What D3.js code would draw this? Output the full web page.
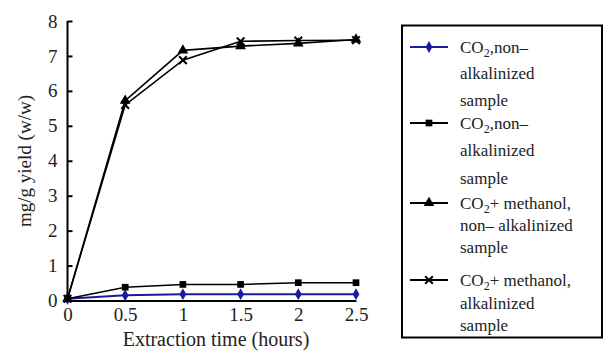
<!DOCTYPE html>
<html>
<head>
<meta charset="utf-8">
<script src="https://cdn.jsdelivr.net/npm/d3@7"></script>
<style>
  body { margin: 0; background: #fff; }
  svg text { font-family: "Liberation Serif", "Times New Roman", "DejaVu Serif", serif; }
</style>
</head>
<body>
<div class="chart"></div>
<script>
// extraction time in hours
var hours = [0, 0.5, 1, 1.5, 2, 2.5];
var xTicks = [0, 0.5, 1, 1.5, 2, 2.5];
var yTicks = [0, 1, 2, 3, 4, 5, 6, 7, 8];

// mg/g yield (w/w)
var co2Blue = [0.05, 0.15, 0.18, 0.18, 0.18, 0.18];
var co2Square = [0.05, 0.38, 0.46, 0.46, 0.51, 0.51];
var methanolNonAlk = [0.05, 5.72, 7.16, 7.28, 7.36, 7.47];
var methanolAlk = [0.05, 5.6, 6.88, 7.42, 7.44, 7.45];

var serifFont = "'Liberation Serif', 'Times New Roman', 'DejaVu Serif', serif";

var series = [
    { values: co2Blue, color: "#1a1aa0", marker: "diamond", label: ["CO|2|,non\u2013", "alkalinized", "sample"] },
    { values: co2Square, color: "#000", marker: "square", label: ["CO|2|,non\u2013", "alkalinized", "sample"] },
    { values: methanolNonAlk, color: "#000", marker: "triangle", label: ["CO|2|+ methanol,", "non\u2013 alkalinized", "sample"] },
    { values: methanolAlk, color: "#000", marker: "star", label: ["CO|2|+ methanol,", "alkalinized", "sample"] }
];

var width = 604, height = 355;
var svg = d3.select(".chart").append("svg")
    .attr("width", width)
    .attr("height", height)
    .attr("font-family", serifFont);

var x = d3.scaleLinear().domain([0, 2.5]).range([67.5, 356]);
var y = d3.scaleLinear().domain([0, 8]).range([300.5, 21]);

// axes
var yAxis = svg.append("g")
    .attr("transform", "translate(" + x(0) + ",0)")
    .call(d3.axisLeft(y).tickValues(yTicks).tickSize(-5).tickPadding(10).tickFormat(d3.format("d")));
var xAxis = svg.append("g")
    .attr("transform", "translate(0," + y(0) + ")")
    .call(d3.axisBottom(x).tickValues(xTicks).tickSize(0).tickPadding(7).tickFormat(function (d) { return d; }));

yAxis.attr("font-family", serifFont).attr("font-size", 19);
xAxis.attr("font-family", serifFont).attr("font-size", 19);
svg.selectAll(".domain").attr("stroke", "#000").attr("stroke-width", 2);
yAxis.selectAll(".tick line").attr("stroke", "#000").attr("stroke-width", 2);
svg.selectAll(".tick text").attr("fill", "#222");
yAxis.select(".domain").attr("d", "M0," + y(8) + "V" + y(0));

// axis titles
svg.append("text")
    .attr("x", 216)
    .attr("y", 346)
    .attr("text-anchor", "middle")
    .attr("fill", "#222")
    .attr("font-size", 20)
    .text("Extraction time (hours)");

svg.append("text")
    .attr("transform", "translate(31,161) rotate(-90)")
    .attr("text-anchor", "middle")
    .attr("fill", "#222")
    .attr("font-size", 19)
    .text("mg/g yield (w/w)");

var line = d3.line()
    .x(function (d, i) { return x(hours[i]); })
    .y(function (d) { return y(d); });

function drawMarker(g, type, cx, cy, color) {
    if (type === "diamond") {
        g.append("path")
            .attr("d", d3.symbol().type(d3.symbolDiamond).size(40))
            .attr("transform", "translate(" + cx + "," + cy + ")")
            .attr("fill", color);
    } else if (type === "square") {
        g.append("path")
            .attr("d", d3.symbol().type(d3.symbolSquare).size(45))
            .attr("transform", "translate(" + cx + "," + cy + ")")
            .attr("fill", color);
    } else if (type === "triangle") {
        g.append("path")
            .attr("d", d3.symbol().type(d3.symbolTriangle).size(50))
            .attr("transform", "translate(" + cx + "," + cy + ")")
            .attr("fill", color);
    } else {
        g.append("path")
            .attr("d", d3.symbol().type(d3.symbolX).size(40))
            .attr("transform", "translate(" + cx + "," + cy + ")")
            .attr("fill", "none")
            .attr("stroke", color)
            .attr("stroke-width", 2);
    }
}

series.forEach(function (s) {
    var g = svg.append("g");
    g.append("path")
        .datum(s.values)
        .attr("d", line)
        .attr("fill", "none")
        .attr("stroke", s.color)
        .attr("stroke-width", s.marker === "diamond" ? 2 : 1.6);
    s.values.forEach(function (v, i) {
        drawMarker(g, s.marker, x(hours[i]), y(v), s.color);
    });
});

// legend
var legend = svg.append("g");
legend.append("rect")
    .attr("x", 402)
    .attr("y", 25.5)
    .attr("width", 200)
    .attr("height", 312)
    .attr("fill", "#fff")
    .attr("stroke", "#000")
    .attr("stroke-width", 2);

var rowTops = [47, 123, 203, 280];
var lineGaps = [[0, 26, 53], [0, 27, 55], [0, 22, 44], [0, 23, 45]];

series.forEach(function (s, k) {
    var ly = rowTops[k];
    legend.append("line")
        .attr("x1", 410).attr("x2", 448)
        .attr("y1", ly).attr("y2", ly)
        .attr("stroke", s.color)
        .attr("stroke-width", 2);
    drawMarker(legend, s.marker, 429, ly, s.color);
    s.label.forEach(function (txt, j) {
        var t = legend.append("text")
            .attr("x", 460)
            .attr("y", ly + 6 + lineGaps[k][j])
            .attr("fill", "#222")
            .attr("font-size", 17);
        var parts = txt.split("|");
        t.append("tspan").text(parts[0]);
        if (parts.length > 1) {
            t.append("tspan").attr("dy", 4).attr("font-size", 12).text(parts[1]);
            t.append("tspan").attr("dy", -4).text(parts[2]);
        }
    });
});
</script>
</body>
</html>
